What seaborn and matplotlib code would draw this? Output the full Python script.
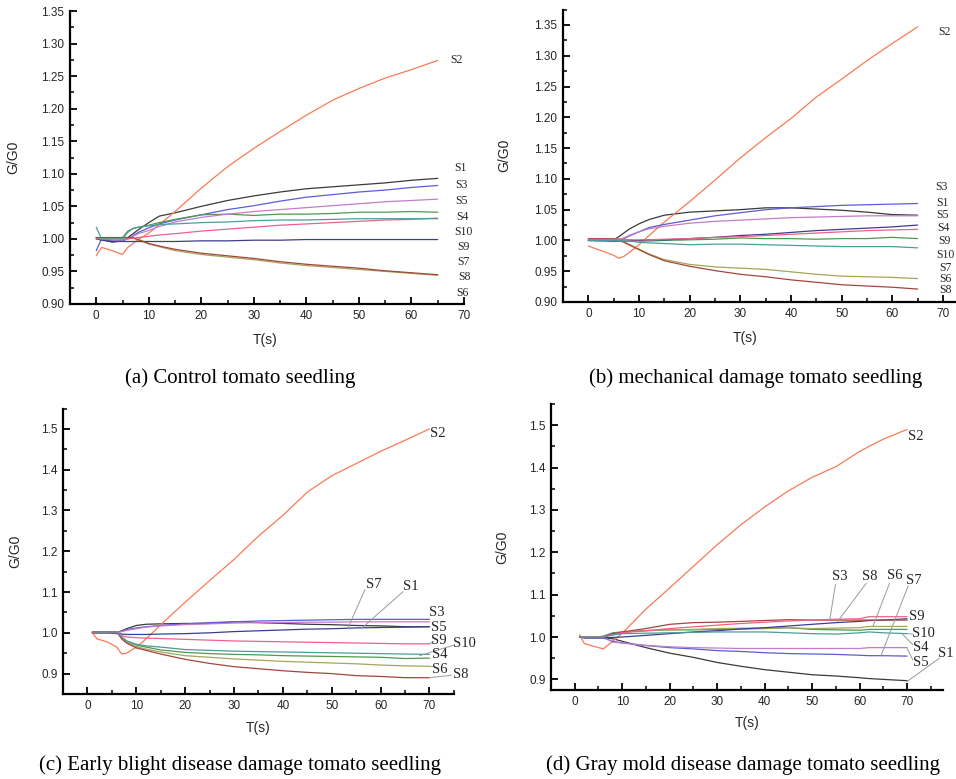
import numpy as np
import pandas as pd
import seaborn as sns
import matplotlib
matplotlib.use("Agg")
import matplotlib.pyplot as plt
from matplotlib.ticker import MultipleLocator, FormatStrFormatter

# ---------------- data ----------------
sensors = ["S1", "S2", "S3", "S4", "S5", "S6", "S7", "S8", "S9", "S10"]

# (a) Control tomato seedling
t_a = [0, 1, 3, 5, 6, 7, 8, 10, 12, 15, 20, 25, 30, 35, 40, 45, 50, 55, 60, 65]
a_S1 = [1.002, 0.999, 0.995, 0.997, 1.002, 1.008, 1.014, 1.025, 1.035, 1.040, 1.050, 1.059, 1.066, 1.072, 1.077, 1.080, 1.083, 1.086, 1.090, 1.093]
a_S2 = [0.974, 0.987, 0.982, 0.976, 0.987, 0.993, 0.999, 1.009, 1.022, 1.042, 1.078, 1.111, 1.139, 1.165, 1.190, 1.213, 1.231, 1.247, 1.260, 1.274]
a_S3 = [0.982, 1.000, 0.997, 0.997, 1.000, 1.005, 1.010, 1.017, 1.023, 1.029, 1.037, 1.045, 1.051, 1.058, 1.064, 1.068, 1.072, 1.075, 1.079, 1.082]
a_S4 = [1.001, 1.001, 1.001, 1.002, 1.012, 1.016, 1.018, 1.021, 1.025, 1.030, 1.037, 1.038, 1.036, 1.038, 1.038, 1.039, 1.041, 1.041, 1.042, 1.041]
a_S5 = [1.000, 1.000, 0.998, 0.998, 1.000, 1.004, 1.008, 1.013, 1.019, 1.026, 1.033, 1.038, 1.042, 1.045, 1.048, 1.051, 1.054, 1.057, 1.059, 1.061]
a_S6 = [1.002, 1.002, 1.002, 1.002, 1.002, 1.001, 0.998, 0.992, 0.988, 0.982, 0.976, 0.972, 0.968, 0.963, 0.959, 0.956, 0.953, 0.950, 0.947, 0.944]
a_S7 = [1.000, 0.998, 0.996, 0.996, 0.996, 0.996, 0.996, 0.996, 0.996, 0.996, 0.997, 0.997, 0.998, 0.998, 0.999, 0.999, 0.999, 0.999, 0.999, 0.999]
a_S8 = [1.002, 1.002, 1.002, 1.002, 1.002, 1.002, 0.999, 0.993, 0.989, 0.984, 0.978, 0.974, 0.970, 0.965, 0.961, 0.958, 0.955, 0.951, 0.948, 0.945]
a_S9 = [1.000, 1.000, 1.000, 1.000, 1.000, 1.001, 1.002, 1.004, 1.006, 1.008, 1.012, 1.015, 1.018, 1.021, 1.023, 1.025, 1.027, 1.029, 1.030, 1.032]
a_S10 = [1.018, 1.000, 1.000, 1.000, 1.010, 1.016, 1.018, 1.020, 1.022, 1.023, 1.025, 1.026, 1.028, 1.029, 1.029, 1.030, 1.031, 1.031, 1.031, 1.031]

# (b) mechanical damage tomato seedling
t_b = [0, 3, 5, 6, 7, 8, 10, 12, 15, 20, 25, 30, 35, 40, 45, 50, 55, 60, 65]
b_S1 = [1.000, 1.001, 1.001, 1.006, 1.012, 1.018, 1.027, 1.034, 1.041, 1.046, 1.048, 1.050, 1.053, 1.053, 1.051, 1.049, 1.046, 1.042, 1.041]
b_S2 = [0.991, 0.982, 0.976, 0.971, 0.974, 0.980, 0.993, 1.008, 1.030, 1.063, 1.098, 1.134, 1.167, 1.198, 1.233, 1.262, 1.292, 1.320, 1.347]
b_S3 = [1.000, 0.999, 0.999, 1.000, 1.003, 1.007, 1.014, 1.021, 1.026, 1.033, 1.040, 1.045, 1.050, 1.053, 1.055, 1.057, 1.058, 1.059, 1.060]
b_S4 = [1.002, 1.002, 1.002, 1.002, 1.002, 1.001, 0.999, 0.999, 1.000, 1.001, 1.002, 1.004, 1.003, 1.003, 1.002, 1.003, 1.003, 1.005, 1.003]
b_S5 = [1.000, 0.999, 0.999, 1.001, 1.004, 1.008, 1.014, 1.019, 1.023, 1.028, 1.031, 1.033, 1.035, 1.037, 1.038, 1.039, 1.040, 1.040, 1.040]
b_S6 = [1.003, 1.003, 1.003, 1.001, 0.998, 0.994, 0.986, 0.978, 0.969, 0.961, 0.957, 0.955, 0.953, 0.949, 0.945, 0.942, 0.941, 0.940, 0.938]
b_S7 = [1.000, 1.000, 0.999, 0.999, 0.999, 0.999, 1.000, 1.001, 1.001, 1.003, 1.005, 1.008, 1.010, 1.013, 1.016, 1.018, 1.020, 1.022, 1.025]
b_S8 = [1.003, 1.003, 1.003, 1.001, 0.997, 0.993, 0.985, 0.977, 0.967, 0.958, 0.951, 0.945, 0.941, 0.936, 0.932, 0.928, 0.926, 0.924, 0.921]
b_S9 = [1.002, 1.002, 1.002, 1.002, 1.002, 1.001, 1.001, 1.001, 1.002, 1.003, 1.005, 1.006, 1.008, 1.010, 1.012, 1.014, 1.016, 1.017, 1.018]
b_S10 = [1.000, 1.000, 1.000, 1.000, 0.999, 0.999, 0.997, 0.996, 0.995, 0.993, 0.994, 0.994, 0.993, 0.992, 0.991, 0.990, 0.990, 0.990, 0.988]

# (c) Early blight disease damage tomato seedling
t_c = [1, 2, 4, 6, 7, 8, 10, 12, 15, 20, 25, 30, 35, 40, 45, 50, 55, 60, 65, 70]
c_S1 = [1.000, 1.000, 1.000, 1.000, 1.005, 1.010, 1.018, 1.021, 1.022, 1.023, 1.023, 1.027, 1.025, 1.023, 1.021, 1.020, 1.018, 1.017, 1.015, 1.015]
c_S2 = [1.000, 0.985, 0.978, 0.965, 0.948, 0.950, 0.965, 0.985, 1.020, 1.075, 1.128, 1.180, 1.237, 1.288, 1.345, 1.385, 1.415, 1.445, 1.472, 1.500]
c_S3 = [1.000, 1.000, 1.000, 1.000, 1.004, 1.008, 1.012, 1.015, 1.018, 1.022, 1.025, 1.027, 1.029, 1.030, 1.031, 1.032, 1.033, 1.033, 1.033, 1.033]
c_S4 = [1.002, 1.002, 1.002, 1.002, 0.990, 0.980, 0.970, 0.965, 0.958, 0.952, 0.949, 0.947, 0.946, 0.944, 0.943, 0.942, 0.941, 0.940, 0.937, 0.938]
c_S5 = [1.000, 1.000, 1.000, 1.000, 1.003, 1.006, 1.010, 1.014, 1.017, 1.020, 1.022, 1.024, 1.025, 1.025, 1.026, 1.026, 1.027, 1.027, 1.027, 1.027]
c_S6 = [1.002, 1.002, 1.002, 1.002, 0.988, 0.977, 0.966, 0.960, 0.953, 0.944, 0.940, 0.936, 0.933, 0.930, 0.928, 0.926, 0.924, 0.921, 0.919, 0.918]
c_S7 = [1.000, 1.000, 1.000, 0.998, 0.997, 0.996, 0.996, 0.996, 0.997, 0.998, 1.000, 1.003, 1.005, 1.007, 1.009, 1.010, 1.012, 1.013, 1.014, 1.015]
c_S8 = [1.002, 1.002, 1.002, 1.002, 0.985, 0.975, 0.963, 0.957, 0.948, 0.935, 0.925, 0.917, 0.912, 0.907, 0.903, 0.900, 0.895, 0.893, 0.890, 0.890]
c_S9 = [1.000, 1.000, 1.000, 1.000, 0.993, 0.990, 0.988, 0.987, 0.986, 0.984, 0.982, 0.980, 0.979, 0.978, 0.977, 0.976, 0.975, 0.974, 0.973, 0.973]
c_S10 = [1.002, 1.002, 1.002, 1.002, 0.990, 0.980, 0.972, 0.968, 0.965, 0.959, 0.957, 0.955, 0.954, 0.953, 0.952, 0.951, 0.950, 0.949, 0.948, 0.947]

# (d) Gray mold disease damage tomato seedling
t_d = [1, 2, 4, 6, 8, 10, 15, 20, 25, 30, 35, 40, 45, 50, 55, 60, 62, 65, 70]
d_S1 = [1.000, 0.999, 0.999, 0.999, 0.996, 0.990, 0.975, 0.962, 0.952, 0.940, 0.931, 0.923, 0.917, 0.911, 0.908, 0.904, 0.902, 0.900, 0.897]
d_S2 = [1.005, 0.985, 0.978, 0.972, 0.990, 1.009, 1.066, 1.116, 1.167, 1.218, 1.265, 1.307, 1.345, 1.377, 1.402, 1.438, 1.450, 1.467, 1.490]
d_S3 = [1.000, 0.998, 0.998, 0.998, 0.990, 0.986, 0.980, 0.975, 0.972, 0.968, 0.966, 0.963, 0.961, 0.960, 0.959, 0.957, 0.956, 0.956, 0.955]
d_S4 = [1.002, 1.000, 1.000, 1.002, 1.010, 1.012, 1.015, 1.017, 1.017, 1.018, 1.019, 1.020, 1.022, 1.018, 1.017, 1.016, 1.018, 1.018, 1.018]
d_S5 = [1.000, 1.000, 1.000, 1.000, 0.988, 0.986, 0.980, 0.977, 0.975, 0.974, 0.973, 0.973, 0.973, 0.973, 0.973, 0.973, 0.975, 0.975, 0.975]
d_S6 = [1.000, 1.000, 1.000, 1.000, 1.008, 1.012, 1.015, 1.017, 1.018, 1.020, 1.021, 1.021, 1.022, 1.020, 1.021, 1.022, 1.025, 1.025, 1.025]
d_S7 = [1.000, 0.998, 0.998, 0.998, 0.999, 1.000, 1.004, 1.008, 1.012, 1.015, 1.019, 1.022, 1.026, 1.030, 1.034, 1.037, 1.039, 1.040, 1.043]
d_S8 = [1.000, 1.000, 1.000, 1.000, 1.008, 1.012, 1.020, 1.030, 1.034, 1.035, 1.037, 1.039, 1.041, 1.040, 1.040, 1.040, 1.040, 1.040, 1.040]
d_S9 = [1.000, 1.000, 1.000, 1.000, 1.005, 1.010, 1.015, 1.020, 1.024, 1.028, 1.032, 1.035, 1.038, 1.040, 1.042, 1.043, 1.048, 1.048, 1.048]
d_S10 = [1.000, 1.000, 1.000, 1.000, 1.005, 1.008, 1.009, 1.010, 1.011, 1.012, 1.012, 1.012, 1.010, 1.008, 1.007, 1.010, 1.012, 1.010, 1.008]

captions = ["(a) Control tomato seedling",
            "(b) mechanical damage tomato seedling",
            "(c) Early blight disease damage tomato seedling",
            "(d) Gray mold disease damage tomato seedling"]

# ---------------- style ----------------
palette = {"S1": "#3a3a3a", "S2": "#fa7a55", "S3": "#5c5cd6", "S4": "#4f9a4f",
           "S5": "#c47cc8", "S6": "#a6a65a", "S7": "#3d3d8e", "S8": "#a3463c",
           "S9": "#f0608a", "S10": "#4d9c9c"}

sns.set_theme(style="ticks")
plt.rcParams["font.family"] = ["Liberation Sans", "DejaVu Sans"]
SERIF = ["Liberation Serif", "DejaVu Serif"]

W, H = 956, 779
fig = plt.figure(figsize=(W / 100, H / 100), dpi=100)


def frame(left, bottom_px, right, top_px):
    return fig.add_axes([left / W, 1 - bottom_px / H, (right - left) / W, (bottom_px - top_px) / H])


def long_df(t, series):
    rows = []
    for name, vals in zip(sensors, series):
        rows.append(pd.DataFrame({"t": t, "v": vals, "sensor": name}))
    return pd.concat(rows, ignore_index=True)


panels = [
    dict(t=t_a, s=[a_S1, a_S2, a_S3, a_S4, a_S5, a_S6, a_S7, a_S8, a_S9, a_S10],
         box=(70, 304, 464, 11), xlim=(-5, 70), ylim=(0.90, 1.35), ymaj=0.05, ymin=0.025, yfmt="%.2f",
         ylab=(-0.145, 0.5), xlab=(0.495, -0.122), cap=(240, 378)),
    dict(t=t_b, s=[b_S1, b_S2, b_S3, b_S4, b_S5, b_S6, b_S7, b_S8, b_S9, b_S10],
         box=(563, 302, 955.6, 9.6), xlim=(-5, 72.5), ylim=(0.90, 1.375), ymaj=0.05, ymin=0.025, yfmt="%.2f",
         ylab=(-0.15, 0.5), xlab=(0.464, -0.122), cap=(756, 378)),
    dict(t=t_c, s=[c_S1, c_S2, c_S3, c_S4, c_S5, c_S6, c_S7, c_S8, c_S9, c_S10],
         box=(63, 694, 453.9, 408.5), xlim=(-5, 75), ylim=(0.85, 1.55), ymaj=0.1, ymin=0.05, yfmt="%.1f",
         ylab=(-0.123, 0.5), xlab=(0.5, -0.12), cap=(240, 765)),
    dict(t=t_d, s=[d_S1, d_S2, d_S3, d_S4, d_S5, d_S6, d_S7, d_S8, d_S9, d_S10],
         box=(551, 690, 942.7, 404), xlim=(-5, 77.5), ylim=(0.875, 1.55), ymaj=0.1, ymin=0.05, yfmt="%.1f",
         ylab=(-0.125, 0.5), xlab=(0.5, -0.115), cap=(743, 765)),
]

axes = []
for p in panels:
    l, b, r, t = p["box"]
    ax = frame(l, b, r, t)
    df = long_df(p["t"], p["s"])
    sns.lineplot(data=df, x="t", y="v", hue="sensor", palette=palette, hue_order=sensors,
                 estimator=None, sort=False, legend=False, linewidth=0.9, ax=ax)
    ax.set_xlim(*p["xlim"])
    ax.set_ylim(*p["ylim"])
    ax.xaxis.set_major_locator(MultipleLocator(10))
    ax.xaxis.set_minor_locator(MultipleLocator(5))
    ax.yaxis.set_major_locator(MultipleLocator(p["ymaj"]))
    ax.yaxis.set_minor_locator(MultipleLocator(p["ymin"]))
    ax.yaxis.set_major_formatter(FormatStrFormatter(p["yfmt"]))
    ax.set_xticks([0, 10, 20, 30, 40, 50, 60, 70])
    ax.tick_params(which="major", direction="in", length=5, width=1.3, labelsize=8.5, pad=4, color="black")
    ax.tick_params(which="minor", direction="in", length=3, width=1.1, color="black")
    for side in ("top", "right"):
        ax.spines[side].set_visible(False)
    for side in ("left", "bottom"):
        ax.spines[side].set_linewidth(1.6)
        ax.spines[side].set_color("black")
    ax.set_facecolor("none")
    ax.set_ylabel("G/G0", fontsize=10, va="center")
    ax.set_xlabel("T(s)", fontsize=10, va="center")
    ax.yaxis.set_label_coords(*p["ylab"])
    ax.xaxis.set_label_coords(*p["xlab"])
    axes.append(ax)

for p, cap in zip(panels, captions):
    fig.text(p["cap"][0] / W, 1 - p["cap"][1] / H, cap, family=SERIF, fontsize=15,
             ha="center", va="center", color="black")

# ---------------- sensor labels ----------------
ax_a, ax_b, ax_c, ax_d = axes
lab_small = dict(family=SERIF, fontsize=8.5, ha="left", va="center", clip_on=False)
a_labels = [("S2", 67.3, 1.274), ("S1", 68.1, 1.109), ("S3", 68.3, 1.083), ("S5", 68.4, 1.058),
            ("S4", 68.6, 1.033), ("S10", 68.1, 1.011), ("S9", 68.7, 0.988), ("S7", 68.7, 0.965),
            ("S8", 68.9, 0.942), ("S6", 68.6, 0.917)]
for name, x, y in a_labels:
    ax_a.text(x, y, name, **lab_small)

b_labels = [("S2", 69.0, 1.338), ("S3", 68.4, 1.087), ("S1", 68.7, 1.061), ("S5", 68.7, 1.041),
            ("S4", 68.8, 1.020), ("S9", 69.1, 0.999), ("S10", 68.7, 0.976), ("S7", 69.2, 0.956),
            ("S6", 69.2, 0.938), ("S8", 69.3, 0.919)]
for name, x, y in b_labels:
    ax_b.text(x, y, name, **lab_small)

lab_big = dict(family=SERIF, fontsize=10.5, ha="center", va="center", clip_on=False)
leader = dict(color="#9a9a9a", linewidth=0.7, clip_on=False)

c_labels = [("S2", 71.6, 1.488), ("S7", 58.5, 1.118), ("S1", 66.1, 1.114), ("S3", 71.6, 1.050),
            ("S5", 72.0, 1.014), ("S9", 72.0, 0.982), ("S10", 77.2, 0.973), ("S4", 72.2, 0.946),
            ("S6", 72.2, 0.911), ("S8", 76.5, 0.898)]
for name, x, y in c_labels:
    ax_c.text(x, y, name, **lab_big)
c_leaders = [((56.8, 1.106), (53.3, 1.011)), ((64.6, 1.101), (56.1, 1.011)),
             ((70.8, 0.979), (70.0, 0.973)), ((75.0, 0.970), (68.0, 0.944)),
             ((70.7, 0.917), (70.0, 0.918)), ((74.5, 0.896), (70.0, 0.890))]
for (x0, y0), (x1, y1) in c_leaders:
    ax_c.plot([x0, x1], [y0, y1], **leader)

d_labels = [("S2", 71.9, 1.473), ("S3", 55.9, 1.143), ("S8", 62.2, 1.143), ("S6", 67.4, 1.145),
            ("S7", 71.4, 1.133), ("S9", 72.0, 1.048), ("S10", 73.5, 1.008), ("S4", 72.8, 0.975),
            ("S5", 72.8, 0.939), ("S1", 78.2, 0.962)]
for name, x, y in d_labels:
    ax_d.text(x, y, name, **lab_big)
d_leaders = [((54.9, 1.124), (53.7, 1.039)), ((61.4, 1.127), (55.4, 1.037)),
             ((66.3, 1.127), (62.8, 1.025)), ((70.2, 1.120), (64.5, 0.956)),
             ((71.2, 1.007), (70.0, 1.008)), ((71.2, 0.982), (69.0, 1.007)),
             ((71.2, 0.946), (70.0, 0.974)), ((76.8, 0.950), (70.0, 0.895))]
for (x0, y0), (x1, y1) in d_leaders:
    ax_d.plot([x0, x1], [y0, y1], **leader)

fig.savefig("out.png", dpi=100, facecolor="white")
